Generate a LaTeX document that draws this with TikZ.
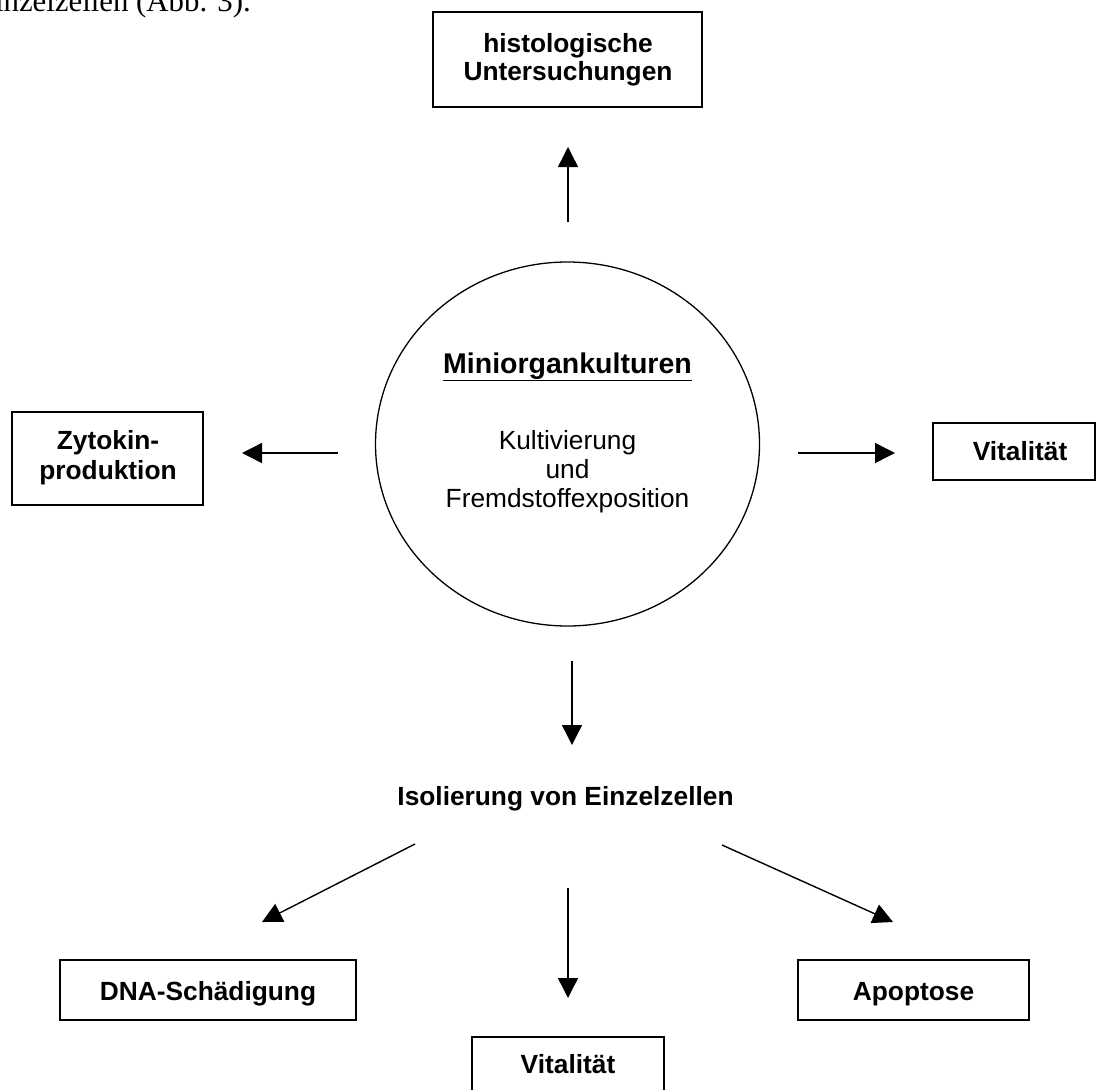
\documentclass[tikz,border=0pt]{standalone}
\usepackage{fontspec}
\setmainfont{Liberation Sans}
\newfontfamily\serifface{Liberation Serif}
\usetikzlibrary{arrows.meta,shapes.geometric}
\begin{document}
\begin{tikzpicture}[x=1pt,y=-1pt,
  box/.style={draw, line width=1.5pt, rectangle, inner sep=0pt},
  lbl/.style={font=\fontsize{26.3}{30}\selectfont\bfseries, anchor=base, inner sep=0pt},
  plain/.style={font=\fontsize{26.3}{30}\selectfont, anchor=base, inner sep=0pt},
  arr/.style={line width=1.4pt, -{Triangle[length=20pt,width=20pt]}}]
\useasboundingbox (0,0) rectangle (1097,1089);
\clip (0,0) rectangle (1097,1089);
% cut-off running text
\node[font=\serifface\fontsize{30.8}{34}\selectfont, anchor=base east, inner sep=0pt] (runtext) at (251,12) {Einzelzellen (Abb. 3).};
% boxes
\node[box, minimum width=269pt, minimum height=95pt] (histo) at (567.5,59.5) {};
\node[box, minimum width=191pt, minimum height=93pt] (zyto) at (107.5,458.5) {};
\node[box, minimum width=162pt, minimum height=57pt] (vitr) at (1014,451.5) {};
\node[box, minimum width=296pt, minimum height=60pt] (dna) at (208,990) {};
\node[box, minimum width=231pt, minimum height=60pt] (apo) at (913.5,990) {};
\node[box, minimum width=192pt, minimum height=63pt] (vitb) at (568,1068.5) {};
\node[draw, ellipse, line width=1.3pt, inner sep=0pt, minimum width=384pt, minimum height=364pt] (mini) at (567.5,444) {};
% texts
\node[lbl] (t1) at (568,53) {histologische};
\node[lbl] (t2) at (568,81) {Untersuchungen};
\node[lbl] (t3) at (108,449) {Zytokin-};
\node[lbl] (t4) at (108,479) {produktion};
\node[lbl] (t5) at (1020,460) {Vitalität};
\node[font=\fontsize{28.5}{32}\selectfont\bfseries, anchor=base, inner sep=0pt] (t6) at (567.5,373) {\underline{Miniorgankulturen}};
\node[plain] (t7) at (567.5,449) {Kultivierung};
\node[plain] (t8) at (567.5,478) {und};
\node[plain] (t9) at (567.5,507) {Fremdstoffexposition};
\node[lbl] (t10) at (565.5,805) {Isolierung von Einzelzellen};
\node[lbl] (t11) at (208,1000) {DNA-Schädigung};
\node[lbl] (t12) at (913.5,1000) {Apoptose};
\node[lbl] (t13) at (568,1073) {Vitalität};
% arrow end points
\coordinate (a1s) at (568,222); \coordinate (a1e) at (568,147);
\coordinate (a2s) at (338,453); \coordinate (a2e) at (242,453);
\coordinate (a3s) at (798,453); \coordinate (a3e) at (895,453);
\coordinate (a4s) at (572,661); \coordinate (a4e) at (572,745);
\coordinate (a5s) at (415,844); \coordinate (a5e) at (262,922);
\coordinate (a6s) at (568,888); \coordinate (a6e) at (568,998);
\coordinate (a7s) at (722,845); \coordinate (a7e) at (893,922);
\draw[arr] (a1s) -- (a1e);
\draw[arr] (a2s) -- (a2e);
\draw[arr] (a3s) -- (a3e);
\draw[arr] (a4s) -- (a4e);
\draw[arr] (a5s) -- (a5e);
\draw[arr] (a6s) -- (a6e);
\draw[arr] (a7s) -- (a7e);
\end{tikzpicture}
\end{document}
